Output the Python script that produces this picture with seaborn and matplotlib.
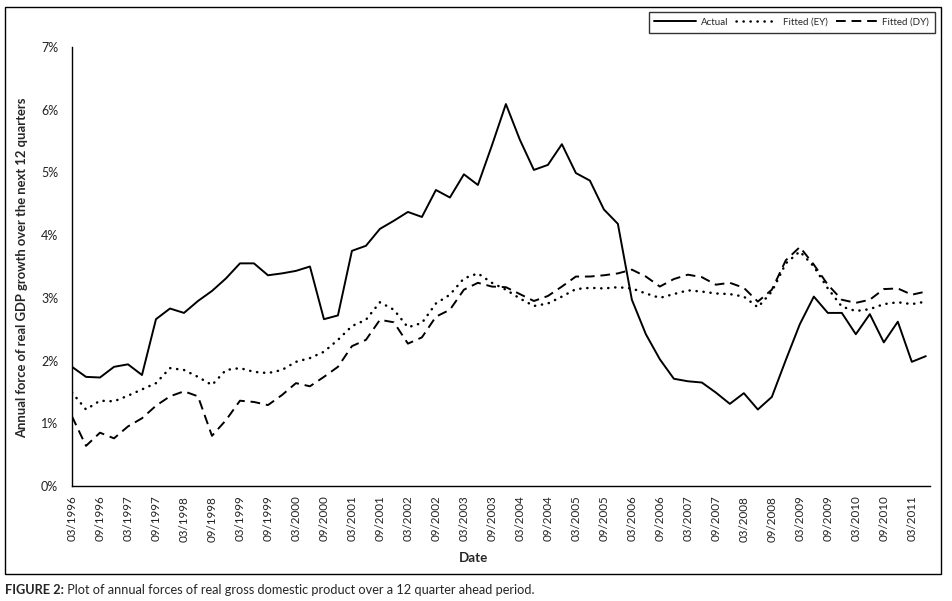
import numpy as np
import pandas as pd
import matplotlib.pyplot as plt
import matplotlib.patches as mpatches
import seaborn as sns

# quarterly observations, 03/1996 .. 06/2011
quarters = pd.period_range("1996Q1", "2011Q2", freq="Q")

actual = [1.90, 1.74, 1.73, 1.90, 1.94, 1.77, 2.66, 2.83, 2.76, 2.95,
          3.11, 3.31, 3.55, 3.55, 3.36, 3.39, 3.43, 3.50, 2.66, 2.72,
          3.75, 3.83, 4.10, 4.23, 4.37, 4.29, 4.72, 4.60, 4.97, 4.80,
          5.43, 6.09, 5.52, 5.04, 5.12, 5.45, 4.99, 4.87, 4.41, 4.18,
          2.97, 2.42, 2.02, 1.71, 1.67, 1.65, 1.49, 1.31, 1.48, 1.22,
          1.42, 2.01, 2.58, 3.02, 2.76, 2.76, 2.42, 2.74, 2.29, 2.62,
          1.98, 2.07]

fitted_ey = [1.49, 1.22, 1.36, 1.35, 1.44, 1.54, 1.64, 1.88, 1.85, 1.74,
             1.61, 1.85, 1.88, 1.82, 1.80, 1.85, 1.98, 2.04, 2.14, 2.33,
             2.55, 2.65, 2.93, 2.81, 2.53, 2.60, 2.91, 3.05, 3.31, 3.39,
             3.24, 3.13, 2.99, 2.87, 2.91, 3.02, 3.14, 3.16, 3.15, 3.17,
             3.15, 3.07, 3.00, 3.06, 3.12, 3.10, 3.07, 3.06, 3.02, 2.85,
             3.10, 3.55, 3.74, 3.50, 3.15, 2.86, 2.79, 2.82, 2.90, 2.93,
             2.90, 2.94]

fitted_dy = [1.11, 0.64, 0.85, 0.76, 0.95, 1.08, 1.28, 1.43, 1.51, 1.43,
             0.80, 1.05, 1.36, 1.34, 1.29, 1.45, 1.64, 1.59, 1.74, 1.90,
             2.23, 2.33, 2.65, 2.61, 2.27, 2.37, 2.70, 2.81, 3.13, 3.24,
             3.18, 3.17, 3.06, 2.95, 3.03, 3.18, 3.34, 3.34, 3.36, 3.39,
             3.45, 3.34, 3.18, 3.30, 3.37, 3.33, 3.21, 3.24, 3.16, 2.94,
             3.13, 3.60, 3.81, 3.53, 3.21, 2.97, 2.92, 2.97, 3.14, 3.15,
             3.05, 3.10]

y_ticks = [0, 1, 2, 3, 4, 5, 6, 7]

sns.set_style("white")
plt.rcParams['font.family'] = ['Lato', 'DejaVu Sans']

idx = np.arange(len(quarters))
df = pd.DataFrame({"q": idx, "Actual": actual,
                   "Fitted (EY)": fitted_ey, "Fitted (DY)": fitted_dy})

fig = plt.figure(figsize=(9.52, 6.01), dpi=100)
ax = fig.add_axes([72 / 952, 1 - 486 / 601, (930 - 72) / 952, (486 - 47) / 601])

sns.lineplot(data=df, x="q", y="Actual", ax=ax, color="black", lw=1.4, label="Actual")
sns.lineplot(data=df, x="q", y="Fitted (EY)", ax=ax, color="black", lw=1.8,
             linestyle=(0, (0.1, 2.7)), dash_capstyle="round", label="Fitted (EY)")
sns.lineplot(data=df, x="q", y="Fitted (DY)", ax=ax, color="black", lw=1.4,
             linestyle=(0, (5, 3)), label="Fitted (DY)")

ax.set_xlim(0, len(quarters) - 0.7)
ax.set_ylim(0, 7)
ax.set_yticks(y_ticks)
ax.set_yticklabels([f"{t}%" for t in y_ticks], fontsize=9, color="#222222")
tick_pos = idx[::2]
ax.set_xticks(tick_pos)
ax.set_xticklabels([("03/" if quarters[i].quarter == 1 else "09/") + str(quarters[i].year)
                    for i in tick_pos], rotation=90, fontsize=8.4, color="#222222")
ax.tick_params(axis="both", direction="out", length=4, width=1, color="black", pad=3)
ax.tick_params(axis="y", pad=6)
for s in ["top", "right"]:
    ax.spines[s].set_visible(False)
for s in ["left", "bottom"]:
    ax.spines[s].set_color("black")
    ax.spines[s].set_linewidth(1)

ax.set_xlabel("")
ax.set_ylabel("")
fig.text(22 / 952, 1 - 268 / 601, "Annual force of real GDP growth over the next 12 quarters",
         rotation=90, ha="center", va="center", fontsize=9.4, fontweight="bold")
fig.text(474 / 952, 1 - 558 / 601, "Date", ha="center", va="center",
         fontsize=9.6, fontweight="bold")

ax.get_legend().remove()
handles, labels = ax.get_legend_handles_labels()
leg = fig.legend(handles, labels, loc="upper right", ncol=3,
                 bbox_to_anchor=(935 / 952, 1 - 12 / 601), bbox_transform=fig.transFigure,
                 borderaxespad=0, fontsize=7, frameon=True, fancybox=False,
                 handlelength=4.3, columnspacing=0.8, handletextpad=0.5,
                 borderpad=0.6)
leg.get_frame().set_edgecolor("black")
leg.get_frame().set_linewidth(1)

frame = mpatches.Rectangle((5 / 952, 1 - 574 / 601), (941 - 5) / 952, (574 - 7) / 601,
                           transform=fig.transFigure, fill=False, edgecolor="black", lw=1)
fig.patches.append(frame)

cap = fig.text(5 / 952, 1 - 590 / 601, "FIGURE 2:", fontsize=9.2, fontweight="bold",
               va="center", ha="left")
ax.annotate(" Plot of annual forces of real gross domestic product over a 12 quarter ahead period.",
            xy=(1, 0.5), xycoords=cap, va="center", ha="left", fontsize=9.2,
            annotation_clip=False)

fig.savefig("out.png", dpi=100)
